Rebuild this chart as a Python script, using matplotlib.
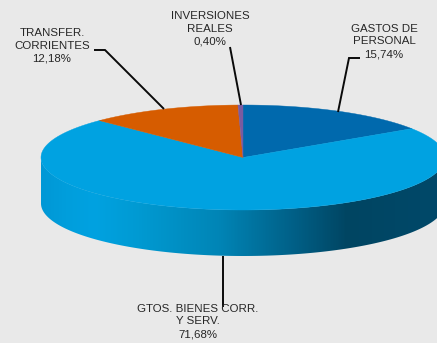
import numpy as np
import matplotlib
matplotlib.use("Agg")
import matplotlib.pyplot as plt
from matplotlib.patches import Polygon
from matplotlib.colors import LinearSegmentedColormap

plt.rcParams['font.family'] = ['Liberation Sans', 'DejaVu Sans']

categories = ["GASTOS DE\nPERSONAL", "GTOS. BIENES CORR.\nY SERV.", "TRANSFER.\nCORRIENTES", "INVERSIONES\nREALES"]
values = [15.74, 71.68, 12.18, 0.40]
value_labels = ["15,74%", "71,68%", "12,18%", "0,40%"]
colors = ["#0069ad", "#00a2e1", "#d65c00", "#7a5ba0"]

CX, CY, RX, RY, DEPTH = 243, 157.5, 202, 52.5, 46
BG = "#e9e9e9"

fig = plt.figure(figsize=(4.37, 3.43), dpi=100, facecolor=BG)
ax = fig.add_axes([0, 0, 1, 1])
ax.set_facecolor(BG)
ax.axis("off")


def rim(a0, a1, n=200):
    t = np.radians(np.linspace(a0, a1, n))
    return np.column_stack([CX + RX * np.sin(t), CY - RY * np.cos(t)])


# extruded side, front half of the ellipse
front = rim(90, 270)
side = np.vstack([front, (front + [0, DEPTH])[::-1]])
poly = Polygon(side, closed=True, facecolor="none", edgecolor="none")
ax.add_patch(poly)
cmap = LinearSegmentedColormap.from_list("side", [
    (0.00, "#0098d6"), (0.06, "#009edc"), (0.13, "#00a2e1"), (0.24, "#009ad2"),
    (0.44, "#0085b6"), (0.63, "#005f86"), (0.76, "#004562"), (1.00, "#00496a")])
im = ax.imshow(np.linspace(0, 1, 400)[None, :], cmap=cmap, aspect="auto",
               extent=[CX - RX, CX + RX, CY + RY + DEPTH, CY], zorder=1)
im.set_clip_path(poly)

# top surface, clockwise from twelve o'clock
edges = np.concatenate([[0], np.cumsum(values)]) / np.sum(values) * 360
for a0, a1, c in zip(edges[:-1], edges[1:], colors):
    pts = np.vstack([[CX, CY], rim(a0, a1)])
    ax.add_patch(Polygon(pts, closed=True, facecolor=c, edgecolor=c, lw=0.3, zorder=2))

# leader lines
leaders = [
    ([360, 349, 338], [58, 58, 112]),
    ([223, 223], [256, 307]),
    ([94, 105, 164], [50, 50, 109]),
    ([230, 241], [47, 105]),
]
for xs, ys in leaders:
    ax.plot(xs, ys, color="#0a0a0a", lw=1.4, solid_capstyle="butt", solid_joinstyle="miter", zorder=3)

# labels
label_pos = [(384, 41.5), (197.5, 321.5), (52, 46), (210, 28.5)]
for cat, val, (x, y) in zip(categories, value_labels, label_pos):
    ax.text(x, y, f"{cat}\n{val}", ha="center", va="center", fontsize=8.25,
            color="#262626", linespacing=1.32, zorder=4)

ax.set_xlim(0, 437)
ax.set_ylim(343, 0)
fig.savefig("out.png", dpi=100, facecolor=BG)
